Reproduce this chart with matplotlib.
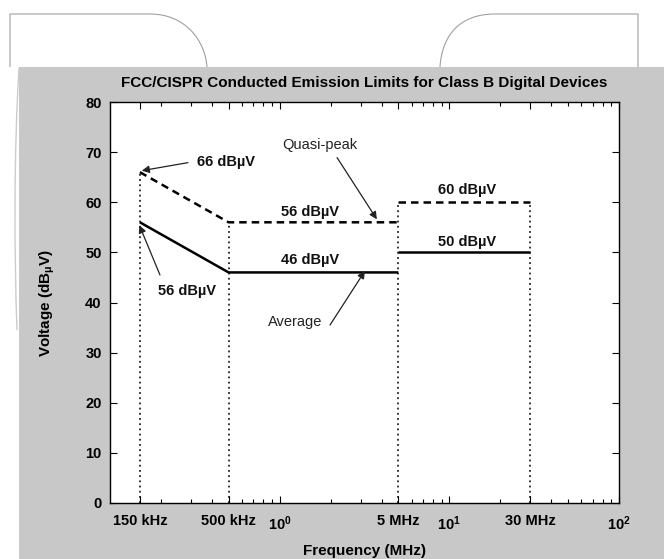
import matplotlib
matplotlib.use("Agg")
import matplotlib.pyplot as plt
from matplotlib import font_manager
from matplotlib.patches import Rectangle, PathPatch
from matplotlib.path import Path
from matplotlib.ticker import FixedLocator, LogLocator, NullFormatter

# ---------------- data ----------------
qp_freq_low = [0.15, 0.5, 5]
qp_level_low = [66, 56, 56]
qp_freq_high = [5, 30]
qp_level_high = [60, 60]
av_freq_low = [0.15, 0.5, 5]
av_level_low = [56, 46, 46]
av_freq_high = [5, 30]
av_level_high = [50, 50]
boundary_freq = [0.15, 0.5, 5, 30]
boundary_top = [66, 56, 60, 60]

xtick_vals = [0.15, 0.5, 1, 5, 10, 30, 100]
xtick_labels = ["150 kHz", "500 kHz", r"$\mathbf{10^0}$", "5 MHz", r"$\mathbf{10^1}$", "30 MHz", r"$\mathbf{10^2}$"]
ytick_vals = [0, 10, 20, 30, 40, 50, 60, 70, 80]

title = "FCC/CISPR Conducted Emission Limits for Class B Digital Devices"
xlabel = "Frequency (MHz)"
ylabel = r"Voltage (dB$_{\mathbf{\mu}}$V)"

# ---------------- fonts ----------------
def pick(names):
    for n in names:
        try:
            font_manager.findfont(font_manager.FontProperties(family=n), fallback_to_default=False)
            return n
        except Exception:
            pass
    return "DejaVu Sans"

bold_font = pick(["Liberation Sans Narrow", "Liberation Sans", "DejaVu Sans"])
reg_font = pick(["Liberation Sans", "DejaVu Sans"])
plt.rcParams["font.family"] = [bold_font, "DejaVu Sans"]
plt.rcParams["mathtext.fontset"] = "custom"
plt.rcParams["mathtext.rm"] = bold_font + ":bold"
plt.rcParams["mathtext.bf"] = bold_font + ":bold"
plt.rcParams["mathtext.it"] = bold_font + ":bold"

W, H = 664, 559
fig = plt.figure(figsize=(W / 100, H / 100), dpi=100)
fig.patch.set_facecolor("white")

def fx(px):
    return px / W

def fy(py):
    return 1 - py / H

# gray panel
fig.add_artist(Rectangle((fx(19), 0), 1 - fx(19), fy(67), transform=fig.transFigure,
                         facecolor="#c8c8c8", edgecolor="none", zorder=0))

# decorative panel borders at top
dec_color = "#a0a0a0"
verts = [(fx(10), fy(67)), (fx(10), fy(14)), (fx(150), fy(14)),
         (fx(185), fy(14)), (fx(205), fy(40)), (fx(207), fy(67))]
codes = [Path.MOVETO, Path.LINETO, Path.LINETO, Path.CURVE4, Path.CURVE4, Path.CURVE4]
fig.add_artist(PathPatch(Path(verts, codes), transform=fig.transFigure, fill=False,
                         edgecolor=dec_color, lw=0.8))
verts = [(fx(440), fy(67)), (fx(442), fy(35)), (fx(460), fy(14)), (fx(495), fy(14)),
         (fx(638), fy(14)), (fx(638), fy(67))]
codes = [Path.MOVETO, Path.CURVE4, Path.CURVE4, Path.CURVE4, Path.LINETO, Path.LINETO]
fig.add_artist(PathPatch(Path(verts, codes), transform=fig.transFigure, fill=False,
                         edgecolor=dec_color, lw=0.8))
verts = [(fx(19), fy(68)), (fx(14), fy(150)), (fx(14), fy(250)), (fx(17), fy(330))]
codes = [Path.MOVETO, Path.CURVE4, Path.CURVE4, Path.CURVE4]
fig.add_artist(PathPatch(Path(verts, codes), transform=fig.transFigure, fill=False,
                         edgecolor="#cccccc", lw=1.0))

# axes
left, right, top, bottom = 110, 619, 102, 503
ax = fig.add_axes([fx(left), fy(bottom), fx(right) - fx(left), fy(top) - fy(bottom)])
ax.set_facecolor("white")
ax.set_xscale("log")
ax.set_xlim(0.1, 100)
ax.set_ylim(0, 80)

# boundaries (dotted)
for f, t in zip(boundary_freq, boundary_top):
    ax.plot([f, f], [0, t], color="black", lw=1.1, linestyle=(0, (1.2, 2.2)))

ax.plot(qp_freq_low, qp_level_low, color="black", lw=1.8, linestyle=(0, (3, 2)))
ax.plot(qp_freq_high, qp_level_high, color="black", lw=1.8, linestyle=(0, (3, 2)))
ax.plot(av_freq_low, av_level_low, color="black", lw=1.8, solid_capstyle="butt")
ax.plot(av_freq_high, av_level_high, color="black", lw=1.8, solid_capstyle="butt")

# annotations
lab_kw = dict(fontsize=10.5, fontweight="bold", ha="center", va="center", color="#111111")
ax.text(0.483, 68.1, "66 dBµV", **lab_kw)
ax.text(1.51, 58.1, "56 dBµV", **lab_kw)
ax.text(1.51, 48.5, "46 dBµV", **lab_kw)
ax.text(0.286, 42.3, "56 dBµV", **lab_kw)
ax.text(12.8, 62.5, "60 dBµV", **lab_kw)
ax.text(12.8, 52.1, "50 dBµV", **lab_kw)
ax.text(1.73, 71.5, "Quasi-peak", fontsize=10.5, family=[reg_font, "DejaVu Sans"],
        ha="center", va="center", color="#222222")
ax.text(1.24, 36.1, "Average", fontsize=10.5, family=[reg_font, "DejaVu Sans"],
        ha="center", va="center", color="#222222")

arr = dict(arrowstyle="-|>", color="#222222", lw=0.9, mutation_scale=11,
           shrinkA=0, shrinkB=0)
ax.annotate("", xy=(0.154, 66.3), xytext=(0.288, 67.9), arrowprops=arr)
ax.annotate("", xy=(3.74, 56.6), xytext=(2.18, 68.9), arrowprops=arr)
ax.annotate("", xy=(0.149, 55.4), xytext=(0.197, 45.5), arrowprops=arr)
ax.annotate("", xy=(3.18, 46.3), xytext=(1.98, 35.5), arrowprops=arr)

# ticks
ax.xaxis.set_major_locator(FixedLocator(xtick_vals))
ax.set_xticklabels(xtick_labels)
ax.xaxis.set_minor_locator(LogLocator(base=10, subs=[2, 3, 4, 5, 6, 7, 8, 9]))
ax.xaxis.set_minor_formatter(NullFormatter())
ax.set_yticks(ytick_vals)
ax.tick_params(which="both", direction="in", top=True, right=True, labelsize=10.5,
               width=0.8, color="black")
ax.tick_params(which="major", length=5)
ax.tick_params(axis="x", which="major", pad=8)
ax.tick_params(axis="y", which="major", pad=6)
ax.tick_params(which="minor", length=3)
for lbl in ax.get_xticklabels() + ax.get_yticklabels():
    lbl.set_fontweight("bold")

for s in ax.spines.values():
    s.set_linewidth(1.0)
    s.set_color("black")

ax.set_title(title, fontsize=11, fontweight="bold", pad=11)
ax.set_xlabel(xlabel, fontsize=11, fontweight="bold", labelpad=8)
ax.set_ylabel(ylabel, fontsize=11, fontweight="bold", labelpad=20)

fig.savefig("out.png", dpi=100, facecolor=fig.get_facecolor())
